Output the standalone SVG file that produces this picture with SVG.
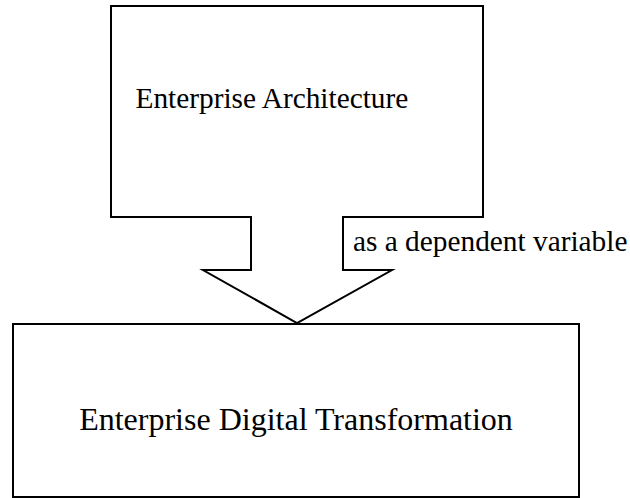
<svg xmlns="http://www.w3.org/2000/svg" width="630" height="498" viewBox="0 0 630 498">
  <style>
    .shape { fill: #ffffff; stroke: #000000; stroke-width: 2; stroke-linejoin: miter; }
    .label { font-family: "Liberation Serif", "Times New Roman", serif; font-size: 29.33px; fill: #000000; }
    .big { font-size: 32px; }
  </style>
  <rect width="630" height="498" fill="#ffffff"/>
  <g id="connectors">
    <text class="label" x="353" y="251">as a dependent variable</text>
  </g>
  <g id="enterprise-architecture">
    <path class="shape" d="M111,6 H483 V217 H343 V270 H392 L297,323 L203,270 H251 V217 H111 Z"/>
    <text class="label" x="135.5" y="108">Enterprise Architecture</text>
  </g>
  <g id="enterprise-digital-transformation">
    <rect class="shape" x="13" y="324" width="566" height="173"/>
    <text class="label big" x="296" y="430" text-anchor="middle">Enterprise Digital Transformation</text>
  </g>
</svg>
